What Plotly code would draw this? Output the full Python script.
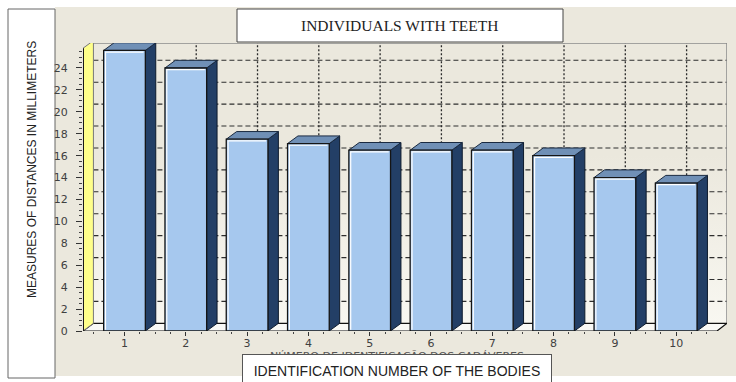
import plotly.graph_objects as go

# ---------------- data ----------------
categories = [1, 2, 3, 4, 5, 6, 7, 8, 9, 10]
values = [25.6, 24.0, 17.5, 17.1, 16.5, 16.5, 16.5, 16.0, 14.0, 13.5]
y_ticks = [0, 2, 4, 6, 8, 10, 12, 14, 16, 18, 20, 22, 24]
title_text = "INDIVIDUALS WITH TEETH"
y_title = "MEASURES OF DISTANCES IN MILLIMETERS"
x_title = "IDENTIFICATION NUMBER OF THE BODIES"
x_title_pt = "NÚMERO DE IDENTIFICAÇÃO DOS CADÁVERES"

# ---------------- geometry / style ----------------
W, H = 736, 382
L, R, T, B = 83, 9, 43, 51
XR = [0.323, 10.829]
YR = [0, 26.28]
DX, DY = 0.17, 0.70      # pseudo-3D depth offset in axis units
HW = 0.34                # half width of bar front
FRONT_L, FRONT_R = XR[0], 10.666
BACK_L, BACK_R = XR[0] + DX, XR[1]

BEIGE = "#EBE8DD"
FRONT = "#A6C8EE"
TOPC = "#7090B6"
SIDE = "#233F66"
YELLOW = "#FFFF8A"

pw, ph = W - L - R, H - T - B
def px(x):
    return (x - L) / pw
def py(y):
    return (H - B - y) / ph

fig = go.Figure()

# back wall
fig.add_trace(go.Scatter(
    x=[BACK_L, BACK_R, BACK_R, BACK_L, BACK_L],
    y=[DY, DY, YR[1], YR[1], DY],
    mode="lines", fill="toself", line=dict(width=0),
    fillgradient=dict(type="vertical",
                      colorscale=[[0, "#F8F7F1"], [0.6, BEIGE], [1, BEIGE]]),
    hoverinfo="skip", showlegend=False))

# horizontal dashed gridlines on back wall
gx, gy = [], []
for v in y_ticks[1:]:
    gx += [BACK_L, BACK_R, None]
    gy += [v + DY, v + DY, None]
fig.add_trace(go.Scatter(x=gx, y=gy, mode="lines",
                         line=dict(color="#2e2e2e", width=1.1, dash="5px,3px"),
                         hoverinfo="skip", showlegend=False))
# vertical dotted gridlines on back wall
vx, vy = [], []
for c in categories:
    vx += [c + DX, c + DX, None]
    vy += [DY, YR[1], None]
fig.add_trace(go.Scatter(x=vx, y=vy, mode="lines",
                         line=dict(color="#2a2a2a", width=1.3, dash="2px,2px"),
                         hoverinfo="skip", showlegend=False))

# back wall border (top light, right dark)
fig.add_trace(go.Scatter(x=[BACK_L, BACK_R, BACK_R], y=[YR[1], YR[1], DY],
                         mode="lines", line=dict(color="#8a8a8a", width=1.5),
                         hoverinfo="skip", showlegend=False))

# floor
fig.add_trace(go.Scatter(
    x=[FRONT_L, FRONT_R, BACK_R, BACK_L, FRONT_L],
    y=[0, 0, DY, DY, 0],
    mode="lines", fill="toself", fillcolor="#F9F9F6",
    line=dict(color="#111111", width=1.2),
    hoverinfo="skip", showlegend=False))

# left side wall
wall_top = 25.8
fig.add_trace(go.Scatter(
    x=[FRONT_L, BACK_L, BACK_L, FRONT_L, FRONT_L],
    y=[0, DY, wall_top + DY, wall_top, 0],
    mode="lines", fill="toself", fillcolor=YELLOW,
    line=dict(color="#777777", width=1),
    hoverinfo="skip", showlegend=False))

# bar side, top and front faces
sx, sy, tx, ty, fx, fy, hx, hy = [], [], [], [], [], [], [], []
for c, v in zip(categories, values):
    sx += [c + HW, c + HW + DX, c + HW + DX, c + HW, c + HW, None]
    sy += [0, DY, v + DY, v, 0, None]
    tx += [c - HW, c - HW + DX, c + HW + DX, c + HW, c - HW, None]
    ty += [v, v + DY, v + DY, v, v, None]
    fx += [c - HW, c + HW, c + HW, c - HW, c - HW, None]
    fy += [0, 0, v, v, 0, None]
    hx += [c - HW + 0.03, c - HW + 0.03, c + HW - 0.03, None]
    hy += [0.12, v - 0.15, v - 0.15, None]
fig.add_trace(go.Scatter(x=sx, y=sy, mode="lines", fill="toself",
                         fillcolor=SIDE, line=dict(color="#0d1a2c", width=1),
                         hoverinfo="skip", showlegend=False))
fig.add_trace(go.Scatter(x=tx, y=ty, mode="lines", fill="toself",
                         fillcolor=TOPC, line=dict(color="#1a2a40", width=1),
                         hoverinfo="skip", showlegend=False))
fig.add_trace(go.Scatter(x=fx, y=fy, mode="lines", fill="toself",
                         fillcolor=FRONT, line=dict(color="#151515", width=1.3),
                         name="values", showlegend=False))
fig.add_trace(go.Scatter(x=hx, y=hy, mode="lines",
                         line=dict(color="white", width=1.2),
                         hoverinfo="skip", showlegend=False))

# front left axis edge
fig.add_trace(go.Scatter(x=[FRONT_L, FRONT_L], y=[0, wall_top], mode="lines",
                         line=dict(color="#1a1a1a", width=2),
                         hoverinfo="skip", showlegend=False))

tickfont = dict(family="DejaVu Sans", size=11, color="#404040")
fig.update_layout(
    width=W, height=H,
    margin=dict(l=L, r=R, t=T, b=B, pad=0),
    paper_bgcolor="white", plot_bgcolor="rgba(0,0,0,0)",
    xaxis=dict(range=XR, showgrid=False, zeroline=False, showline=False,
               tickmode="array", tickvals=categories,
               ticktext=[str(c) for c in categories],
               ticks="outside", ticklen=4, tickcolor="#333", tickwidth=1,
               tickfont=tickfont, ticklabelstandoff=-2,
               minor=dict(ticks="outside", ticklen=2, tickcolor="#444",
                          tickmode="array",
                          tickvals=[c + d for c in categories for d in (-0.5, -0.25, 0.25)] + [10.5])),
    yaxis=dict(range=YR, showgrid=False, zeroline=False, showline=False,
               tickmode="array", tickvals=y_ticks,
               ticktext=[str(v) for v in y_ticks],
               ticks="outside", ticklen=6, tickcolor="#333", tickwidth=1,
               tickfont=tickfont, ticklabelstandoff=6,
               minor=dict(ticks="outside", ticklen=3, tickcolor="#444",
                          tickmode="array",
                          tickvals=[v + 0.5 * k for v in y_ticks for k in (1, 2, 3)])),
    shapes=[
        dict(type="rect", xref="paper", yref="paper", layer="below",
             x0=px(55), x1=px(736), y0=py(376), y1=py(7),
             fillcolor=BEIGE, line=dict(width=0)),
        dict(type="rect", xref="paper", yref="paper", layer="below",
             x0=px(8), x1=px(55), y0=py(378), y1=py(9),
             fillcolor="white", line=dict(color="#666", width=1)),
        dict(type="rect", xref="paper", yref="paper", layer="above",
             x0=px(237), x1=px(563), y0=py(42), y1=py(9),
             fillcolor="white", line=dict(color="#444", width=1)),
    ],
    annotations=[
        dict(text=title_text, xref="paper", yref="paper",
             x=px(399), y=py(25.5), xanchor="center", yanchor="middle",
             showarrow=False,
             font=dict(family="Liberation Serif", size=15.5, color="#222")),
        dict(text=y_title, xref="paper", yref="paper", textangle=-90,
             x=px(32), y=py(170), xanchor="center", yanchor="middle",
             showarrow=False,
             font=dict(family="Liberation Sans", size=12, color="#222")),
        dict(text=x_title_pt, xref="paper", yref="paper",
             x=px(397), y=py(348), xanchor="center", yanchor="top",
             showarrow=False,
             font=dict(family="DejaVu Sans", size=11, color="#555")),
        dict(text=x_title, xref="paper", yref="paper",
             x=px(242), y=py(354), xanchor="left", yanchor="top",
             width=308, height=32, align="center", valign="middle",
             bgcolor="white", bordercolor="#555", borderwidth=1, borderpad=0,
             showarrow=False,
             font=dict(family="Liberation Sans", size=14, color="#222")),
    ],
)

fig.write_html("out.html")
